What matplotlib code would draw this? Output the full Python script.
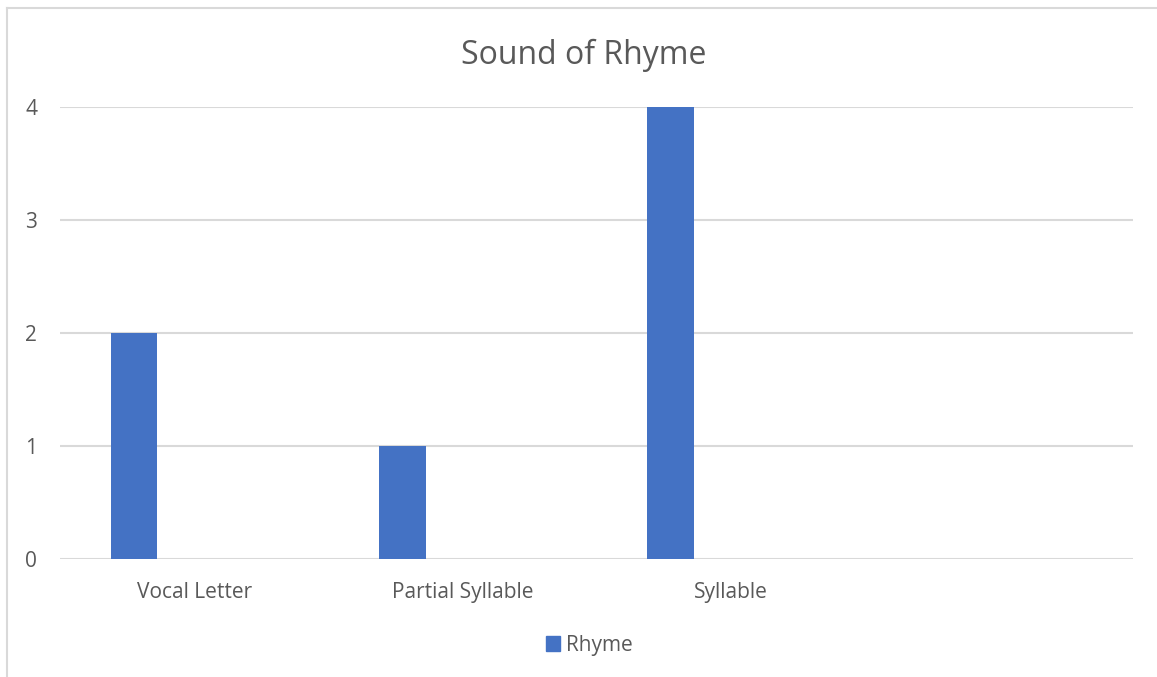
import matplotlib.pyplot as plt
from matplotlib.patches import Patch
from matplotlib.lines import Line2D

categories = ["Vocal Letter", "Partial Syllable", "Syllable", ""]
rhyme = [2, 1, 4, 0]
y_ticks = [0, 1, 2, 3, 4]

textColor = "#595959"
gridColor = "#d9d9d9"
barColor = "#4472c4"

plt.rcParams["font.family"] = ["Open Sans", "DejaVu Sans"]

fig = plt.figure(figsize=(11.57, 6.77), dpi=100)
ax = fig.add_axes([60/1157, 1-559/677, (1133-60)/1157, (559-107)/677])

# bars sit left of the slot centre, like the excel original
x = [i - 0.224 for i in range(len(categories))]
ax.bar(x[:3], rhyme[:3], width=0.174, color=barColor, label="Rhyme", zorder=3)

ax.set_xlim(-0.5, len(categories) - 0.5)
ax.set_ylim(0, 4)
ax.set_yticks(y_ticks)
ax.set_yticklabels([str(v) for v in y_ticks])
ax.set_xticks(range(len(categories)))
ax.set_xticklabels(categories)
ax.tick_params(axis="both", length=0, colors=textColor, labelsize=15)
ax.tick_params(axis="y", pad=16.5)
ax.tick_params(axis="x", pad=16.5)
ax.grid(axis="y", color=gridColor, linewidth=1.5, zorder=0)
for s in ax.spines.values():
    s.set_visible(False)

fig.text(584/1157, 1-55/677, "Sound of Rhyme", ha="center", va="center",
         fontsize=23, color=textColor)

# legend
leg = fig.legend(handles=[Patch(color=barColor, label="Rhyme")], loc="center",
                 bbox_to_anchor=(589/1157, 1-645/677), frameon=False,
                 fontsize=15, labelcolor=textColor, handlelength=0.7,
                 handleheight=0.7, handletextpad=0.25)

# chart border (top and left only visible)
fig.add_artist(Line2D([7/1157, 1], [1-8/677, 1-8/677], color=gridColor, linewidth=1.5))
fig.add_artist(Line2D([7/1157, 7/1157], [0, 1-8/677], color=gridColor, linewidth=1.5))

fig.savefig("out.png", dpi=100)
